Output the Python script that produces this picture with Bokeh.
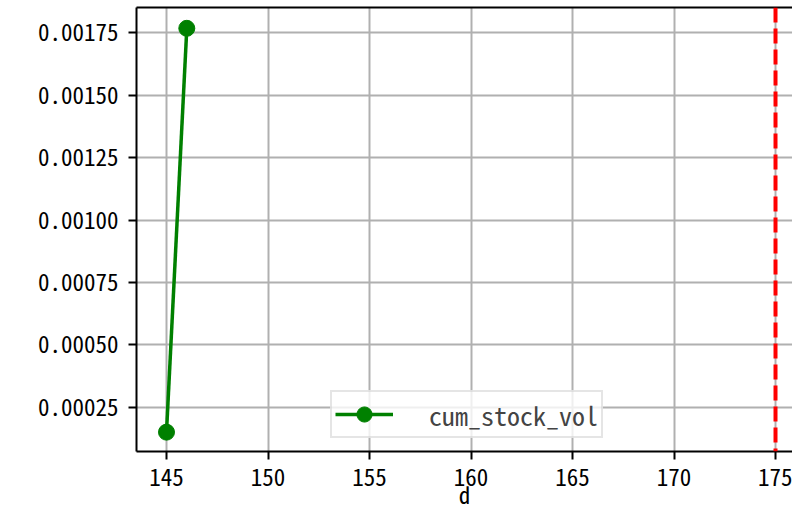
from bokeh.plotting import figure
from bokeh.models import Range1d, FixedTicker, Span, LinearAxis, Legend, LegendItem, PrintfTickFormatter
from bokeh.embed import file_html
from bokeh.resources import INLINE

# data
d = [145, 146]
cum_stock_vol = [0.00015, 0.001768]
vline_d = 175
x_ticks = [145, 150, 155, 160, 165, 170, 175]
y_ticks = [0.00025, 0.0005, 0.00075, 0.001, 0.00125, 0.0015, 0.00175]
x_label = "d"
series_name = "cum_stock_vol"

FONT = "'Noto Sans Mono CJK SC', 'Noto Sans Mono CJK JP', 'DejaVu Sans Mono', monospace"

p = figure(width=792, height=514, output_backend="svg", toolbar_location=None,
           x_range=Range1d(143.522, 175.837), y_range=Range1d(0.0000725, 0.0018514),
           min_border_left=136, min_border_right=0, min_border_top=7, min_border_bottom=63)
p.outline_line_color = None

# grid
for g in (p.xgrid, p.ygrid):
    g.grid_line_color = "#b0b0b0"
    g.grid_line_width = 2
p.xaxis.ticker = FixedTicker(ticks=x_ticks)
p.yaxis.ticker = FixedTicker(ticks=y_ticks)
p.yaxis.formatter = PrintfTickFormatter(format="%.5f")

for ax in (p.xaxis[0], p.yaxis[0]):
    ax.axis_line_width = 2
    ax.axis_line_color = "black"
    ax.major_tick_line_width = 2
    ax.major_tick_line_color = "black"
    ax.major_tick_out = 8
    ax.major_tick_in = 0
    ax.minor_tick_line_color = None
    ax.major_label_text_font = FONT
    ax.major_label_text_font_size = "23px"
    ax.major_label_text_color = "black"
    ax.major_label_standoff = 10
p.xaxis.major_label_standoff = 9
p.xaxis.axis_label = x_label
p.xaxis.axis_label_text_font = FONT
p.xaxis.axis_label_text_font_size = "23px"
p.xaxis.axis_label_text_font_style = "normal"
p.xaxis.axis_label_text_color = "black"
p.xaxis.axis_label_standoff = -12

# top frame line
top = LinearAxis(ticker=FixedTicker(ticks=[]), axis_line_width=2, axis_line_color="black",
                 major_tick_line_color=None, minor_tick_line_color=None,
                 major_label_text_font_size="0px")
p.add_layout(top, "above")

# vertical marker line
p.add_layout(Span(location=vline_d, dimension="height", line_color="red",
                  line_width=4, line_dash="15 6"))

ln = p.line(d, cum_stock_vol, line_color="#008000", line_width=3.5)
mk = p.scatter(d, cum_stock_vol, marker="circle", size=16, fill_color="#008000",
               line_color="#008000")

legend = Legend(items=[LegendItem(label=series_name, renderers=[ln, mk])],
                location=(194, 13), padding=3, label_standoff=36, glyph_width=58,
                glyph_height=38, label_height=38,
                label_text_font=FONT, label_text_font_size="26px",
                border_line_color="#cccccc", border_line_width=2,
                background_fill_alpha=0.8, margin=0)
p.add_layout(legend, "center")

open("out.html", "w").write(file_html(p, INLINE))
